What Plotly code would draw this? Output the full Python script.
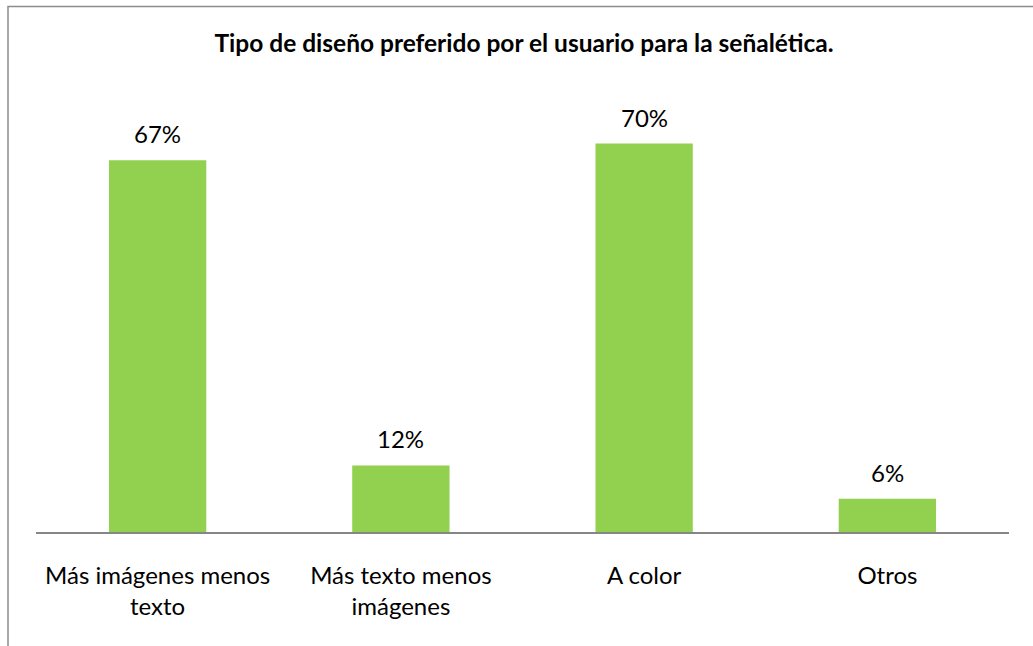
import plotly.graph_objects as go

categories = ["Más imágenes menos<br>texto", "Más texto menos<br>imágenes", "A color", "Otros"]
values = [0.67, 0.12, 0.70, 0.06]
labels = ["67%", "12%", "70%", "6%"]
title_text = "Tipo de diseño preferido por el usuario para la señalética."

W, H = 1033, 646
L, R, T, B = 36, 24, 88, 114
pw, ph = W - L - R, H - T - B
FONT = "Lato, Open Sans, sans-serif"

fig = go.Figure()
fig.add_trace(go.Bar(
    x=categories, y=values,
    marker=dict(color="#92D050", line=dict(width=0)),
    width=0.4,
    hoverinfo="skip",
))

for c, v, t in zip(categories, values, labels):
    fig.add_annotation(x=c, y=v, text=t, showarrow=False, yanchor="bottom",
                       yshift=10, font=dict(family=FONT, size=24, color="#000000"))

# chart frame
fig.add_shape(type="rect", xref="paper", yref="paper",
              x0=(8 - L) / pw, x1=(W + 20 - L) / pw,
              y0=-(H + 20 - (T + ph)) / ph, y1=(T + ph - 6.5) / ph,
              line=dict(color="#8C8C8C", width=1.5), fillcolor="rgba(0,0,0,0)", layer="below")

fig.update_layout(
    width=W, height=H,
    margin=dict(l=L, r=R, t=T, b=B, pad=0),
    paper_bgcolor="white", plot_bgcolor="white",
    showlegend=False,
    title=dict(text="<b>" + title_text + "</b>", x=524 / W, xanchor="center",
               y=1 - 43 / H, yanchor="middle", yref="container",
               font=dict(family=FONT, size=24.5, color="#000000")),
    xaxis=dict(showline=True, linecolor="#868686", linewidth=1.5, ticks="",
               showgrid=False, zeroline=False, range=[-0.5, 3.5],
               tickfont=dict(family=FONT, size=24, color="#000000"),
               ticklabelstandoff=21),
    yaxis=dict(range=[0, 0.8], visible=False, showgrid=False, zeroline=False),
)

fig.write_html("out.html", config={"displayModeBar": False},
               post_script="document.body.style.margin='0';")
